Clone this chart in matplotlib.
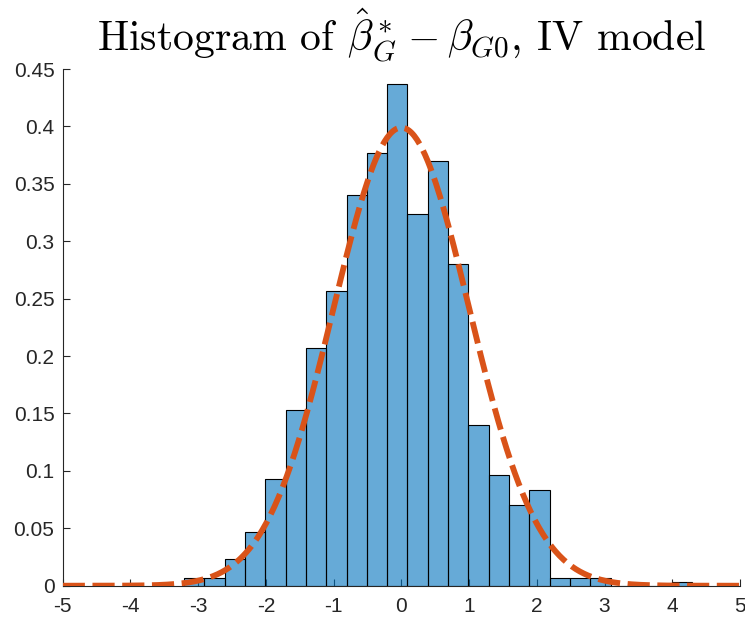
"""
Histogram of the centred IV estimates with the standard normal density on top.
"""

import numpy as np
import matplotlib

matplotlib.use("Agg")
import matplotlib.pyplot as plt

# histogram bins (width 0.3) and counts out of 1000 replications
bin_left = [-3.21, -2.91, -2.61, -2.31, -2.01, -1.71, -1.41, -1.11, -0.81,
            -0.51, -0.21, 0.09, 0.39, 0.69, 0.99, 1.29, 1.59, 1.89, 2.19,
            2.49, 2.79, 3.09, 3.39, 3.69, 3.99]
counts = [2, 2, 7, 14, 28, 46, 62, 77, 102, 113, 131, 97, 111, 84, 42, 29,
          21, 25, 2, 2, 2, 0, 0, 0, 1]
bin_width = 0.3
n_reps = 1000

x_ticks = [-5, -4, -3, -2, -1, 0, 1, 2, 3, 4, 5]
y_ticks = [0, 0.05, 0.1, 0.15, 0.2, 0.25, 0.3, 0.35, 0.4, 0.45]
y_labels = ["0", "0.05", "0.1", "0.15", "0.2", "0.25", "0.3", "0.35", "0.4", "0.45"]

plt.rcParams["mathtext.fontset"] = "cm"
plt.rcParams["font.family"] = ["Liberation Sans", "DejaVu Sans"]

# probability density normalisation
density = np.array(counts) / (n_reps * bin_width)

fig = plt.figure(figsize=(7.45, 6.2), dpi=100)
ax = fig.add_axes([0.0842, 0.0553, 0.9091, 0.8334])

ax.bar(bin_left, density, width=bin_width, align="edge",
       color="#0072BD", alpha=0.6, edgecolor="none", zorder=2)
ax.bar(bin_left, density, width=bin_width, align="edge",
       facecolor="none", edgecolor="black", linewidth=0.8, zorder=3)

# N(0,1) density
xs = np.linspace(-5, 5, 500)
pdf = np.exp(-xs ** 2 / 2) / np.sqrt(2 * np.pi)
ax.plot(xs, pdf, color="#D95319", linewidth=4.2,
        linestyle=(0, (3.8, 1.3)), dash_capstyle="butt", zorder=4)

ax.set_xlim(-5, 5)
ax.set_ylim(0, 0.45)
ax.set_xticks(x_ticks)
ax.set_xticklabels([str(t) for t in x_ticks])
ax.set_yticks(y_ticks)
ax.set_yticklabels(y_labels)

for side in ["top", "right"]:
    ax.spines[side].set_visible(False)
for side in ["left", "bottom"]:
    ax.spines[side].set_color("#262626")
    ax.spines[side].set_linewidth(0.8)
    ax.spines[side].set_zorder(1)

ax.tick_params(direction="in", length=5, width=0.8, colors="#262626",
               labelsize=15, labelcolor="#262626")
ax.tick_params(axis="x", pad=8)
ax.tick_params(axis="y", pad=6)

ax.set_title(r"Histogram of $\hat{\beta}^*_G - \beta_{G0}$, IV model",
             fontsize=30, fontfamily="cmr10", pad=12, color="black")

fig.savefig("out.png", dpi=100)
